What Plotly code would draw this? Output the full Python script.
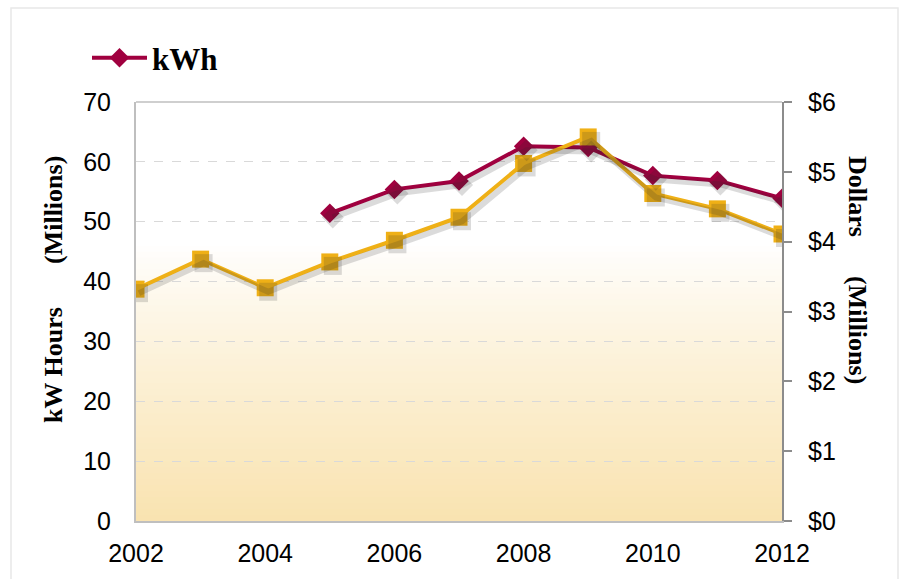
import plotly.graph_objects as go

years = [2002, 2003, 2004, 2005, 2006, 2007, 2008, 2009, 2010, 2011, 2012]
kwh_years = [2005, 2006, 2007, 2008, 2009, 2010, 2011, 2012]
kwh_millions = [51.4, 55.4, 56.8, 62.6, 62.4, 57.7, 56.9, 53.9]
dollars_millions = [3.32, 3.75, 3.34, 3.71, 4.02, 4.35, 5.12, 5.50, 4.69, 4.47, 4.11]

left_ticks = [0, 10, 20, 30, 40, 50, 60, 70]
right_ticks = [0, 1, 2, 3, 4, 5, 6]
right_labels = ["$0", "$1", "$2", "$3", "$4", "$5", "$6"]
x_ticks = [2002, 2004, 2006, 2008, 2010, 2012]

RED = "#A0003F"
GOLD = "#EFB016"
SHADOW = "rgba(40,40,40,0.17)"

L, R, T, B = 136, 123, 102, 58
W, H = 905, 579
pw, ph = W - L - R, H - T - B
# pixel offsets for drop shadows converted to axis units
dx = 3 * 10 / pw
dy_l = 4 * 70 / ph
dy_r = 4 * 6 / ph

fig = go.Figure()

# shadows
fig.add_trace(go.Scatter(x=years, y=dollars_millions, xaxis="x2", yaxis="y4", mode="lines+markers",
                         line=dict(color=SHADOW, width=6), marker=dict(symbol="square", size=18, color=SHADOW),
                         showlegend=False, hoverinfo="skip"))
fig.add_trace(go.Scatter(x=kwh_years, y=kwh_millions, xaxis="x2", yaxis="y3", mode="lines+markers",
                         line=dict(color=SHADOW, width=6), marker=dict(symbol="diamond", size=17, color=SHADOW),
                         showlegend=False, hoverinfo="skip"))

fig.add_trace(go.Scatter(x=years, y=dollars_millions, yaxis="y2", mode="lines+markers", name="Dollars",
                         line=dict(color=GOLD, width=4), marker=dict(symbol="square", size=17, color=GOLD),
                         showlegend=False))
fig.add_trace(go.Scatter(x=kwh_years, y=kwh_millions, mode="lines+markers", name="<b>kWh</b>",
                         line=dict(color=RED, width=4), marker=dict(symbol="diamond", size=15, color=RED)))

# background gradient bands (below gridlines)
shapes = []
nb = 70
top_c = (255, 255, 255)
bot_c = (249, 227, 176)
for i in range(nb):
    y0 = i / nb
    y1 = (i + 1) / nb
    t = (y0 + y1) / 2
    f = max(0.0, min(1.0, (0.66 - t) / 0.66))
    f = f ** 0.85
    c = tuple(int(round(top_c[k] + (bot_c[k] - top_c[k]) * f)) for k in range(3))
    shapes.append(dict(type="rect", xref="x domain", yref="y domain", x0=0, x1=1, y0=y0, y1=y1 + 0.002,
                       fillcolor="rgb(%d,%d,%d)" % c, line=dict(width=0), layer="below"))
# plot frame top line
shapes.append(dict(type="line", xref="x domain", yref="y domain", x0=0, x1=1, y0=1, y1=1,
                   line=dict(color="#BFBFBF", width=1.5), layer="above"))
# outer chart border
shapes.append(dict(type="rect", xref="paper", yref="paper",
                   x0=(11 - L) / pw, x1=(898 - L) / pw, y0=-0.3, y1=1 + (T - 8) / ph,
                   line=dict(color="#E8E8E8", width=1.5), fillcolor="rgba(0,0,0,0)", layer="below"))

tickfont = dict(family="Liberation Sans, Arial, sans-serif", size=25, color="#000000")
titlefont = dict(family="Liberation Serif, Times New Roman, serif", size=26, color="#000000")


def title_ann(text, xpx, ypx, angle):
    return dict(text=text, xref="paper", yref="paper", x=(xpx - L) / pw, y=1 - (ypx - T) / ph,
                xanchor="center", yanchor="middle", textangle=angle, showarrow=False, font=titlefont)


fig.update_layout(
    width=W, height=H,
    margin=dict(l=L, r=R, t=T, b=B, autoexpand=False),
    paper_bgcolor="white", plot_bgcolor="white",
    shapes=shapes,
    xaxis=dict(range=[2002, 2012], tickvals=x_ticks, ticktext=[str(v) for v in x_ticks],
               tickfont=tickfont, showgrid=False, zeroline=False, showline=True, automargin=False,
               linecolor="#BFBFBF", linewidth=2, ticks="", ticklabelstandoff=9),
    yaxis=dict(range=[0, 70], tickvals=left_ticks, tickfont=tickfont, showgrid=True, automargin=False,
               gridcolor="#D9D9D9", griddash="dash", gridwidth=1, zeroline=False,
               showline=True, linecolor="#BFBFBF", linewidth=2, ticks="", ticklabelstandoff=18),
    yaxis2=dict(range=[0, 6], overlaying="y", side="right", tickvals=right_ticks, ticktext=right_labels,
                tickfont=tickfont, showgrid=False, zeroline=False, showline=True, automargin=False,
                linecolor="#8C8C8C", linewidth=2, ticks="outside", ticklen=8, tickcolor="#8C8C8C",
                tickwidth=1.5, ticklabelstandoff=11),
    xaxis2=dict(range=[2002 - dx, 2012 - dx], overlaying="x", visible=False),
    yaxis3=dict(range=[0 + dy_l, 70 + dy_l], overlaying="y", visible=False),
    yaxis4=dict(range=[0 + dy_r, 6 + dy_r], overlaying="y", visible=False),
    legend=dict(x=(87 - L) / pw, y=1 + (T - 31) / ph, xanchor="left", yanchor="top",
                font=dict(family="Liberation Serif, Times New Roman, serif", size=31, color="#000000"),
                bgcolor="rgba(0,0,0,0)", tracegroupgap=0, itemwidth=55),
    annotations=[
        title_ann("<b>kW Hours</b>", 53, 365, -90),
        title_ann("<b>(Millions)</b>", 53, 210, -90),
        title_ann("<b>Dollars</b>", 858, 196, 90),
        title_ann("<b>(Millions)</b>", 858, 330, 90),
    ],
)

fig.write_html("out.html", post_script="document.body.style.margin='0px';",
               config={"displayModeBar": False})
